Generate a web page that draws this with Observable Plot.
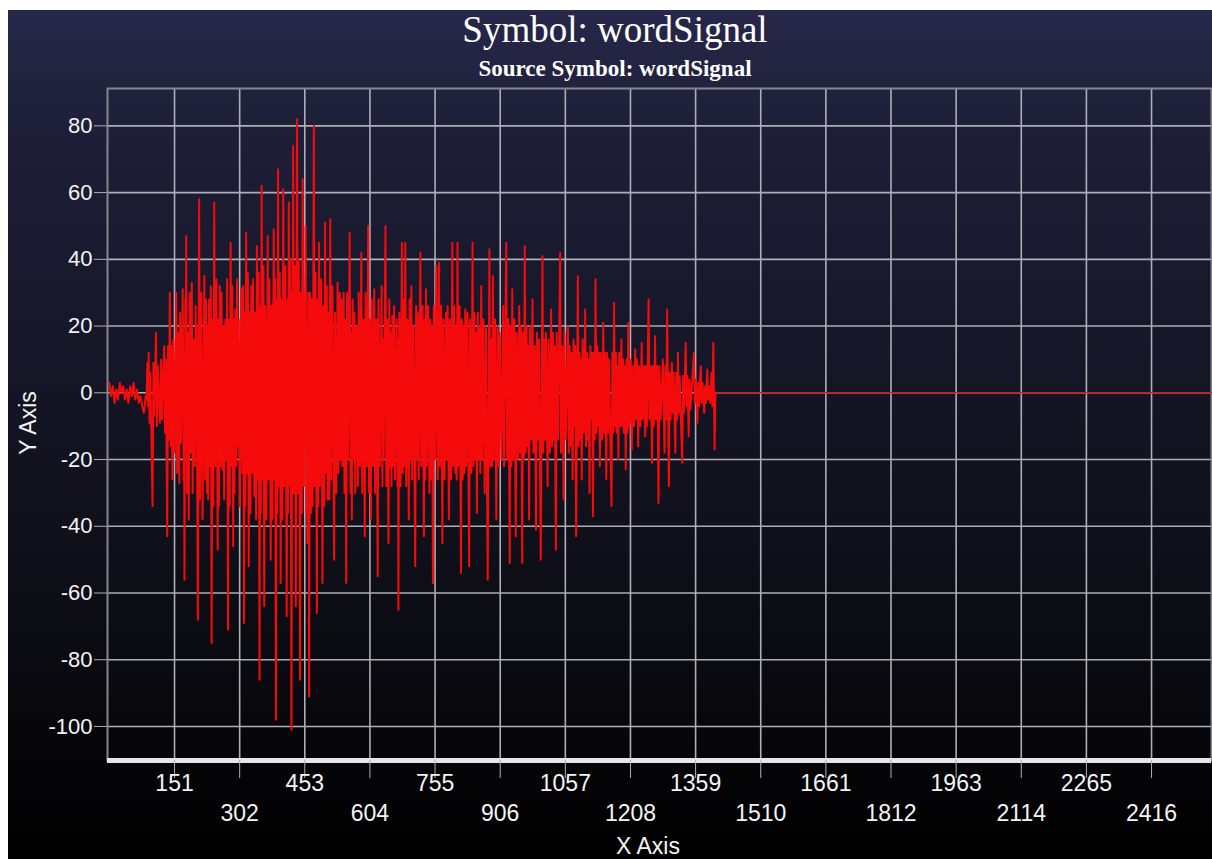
<!DOCTYPE html>
<html>
<head>
<meta charset="utf-8">
<script src="https://cdn.jsdelivr.net/npm/d3@7"></script>
<script src="https://cdn.jsdelivr.net/npm/@observablehq/plot@0.6"></script>
<style>
  html, body { margin: 0; padding: 0; background: #ffffff; }
  #panel {
    position: absolute; left: 8px; top: 10px; width: 1204px; height: 849px; overflow: hidden;
    background: linear-gradient(to bottom, #27284a 0%, #1f2039 12%, #17182b 35%, #10111b 60%, #07070b 85%, #000000 100%);
  }
  #panel svg { position: absolute; left: 0; top: 0; }
  .title { position: absolute; left: 0; width: 1214px; text-align: center; color: #ffffff;
    font-family: "Liberation Serif", "Times New Roman", serif; white-space: nowrap; }
  #t1 { top: 1px; font-size: 37px; line-height: 37px; }
  #t2 { top: 47px; font-size: 23px; line-height: 23px; font-weight: bold; }
  .axt { position: absolute; color: #f4f4f4; font-family: "Liberation Sans", Arial, sans-serif;
    font-size: 23px; white-space: nowrap; transform: translate(-50%, -50%); }
  #ylab { left: 20px; top: 413px; transform: translate(-50%, -50%) rotate(-90deg); }
  #xlab { left: 640px; top: 836px; }
</style>
</head>
<body>
<div id="panel">
  <div id="chart"></div>
  <div class="title" id="t1">Symbol: wordSignal</div>
  <div class="title" id="t2">Source Symbol: wordSignal</div>
  <div class="axt" id="ylab">Y Axis</div>
  <div class="axt" id="xlab">X Axis</div>
</div>
<script>
// ---- data: [sample index, amplitude] ----
const xTicks = [151, 302, 453, 604, 755, 906, 1057, 1208, 1359, 1510, 1661, 1812, 1963, 2114, 2265, 2416];
const yTicks = [-100, -80, -60, -40, -20, 0, 20, 40, 60, 80];
const xDomain = [-4.4, 2555];
const yDomain = [-110.2, 91.2];

const onsetNoise = [[0,3],[4,-1],[8,2],[12,-3],[16,1],[20,-2],[24,3],[28,0],[32,2],[36,-2],[40,1],[44,-3],[48,2],[52,-1],[56,3],[60,-2],[64,1],[68,-3],[72,-1],[76,-4],[80,-6],[84,-1],[86,-2]];

const attackBurst = [[88,9],[89,-4],[91,12],[93,-9],[95,6],[100,-34],[102,9],[104,-7],[108,18],[110,-10],[112,8],[117,-9],[120,10],[122,-8],[127,14],[129,-12],[131,10],[134,-43],[136,14],[138,-14],[140,30],[142,-16],[144,14],[146,-26],[148,16],[151,-18],[155,30],[157,-24],[160,18],[162,-27],[164,24],[166,-15],[170,31],[172,-26],[173,12],[174,-56],[176,28],[177,-12],[178,47],[180,-30],[182,18],[184,-38],[186,30],[188,-18],[191,33],[193,-30],[195,16],[198,-22],[200,26],[201,-8],[202,20],[205,-68],[208,58],[210,-32],[213,30],[216,-38],[220,35],[222,-26],[224,28],[226,-30],[228,20],[229,-32],[231,28],[233,-22],[235,32],[237,-75],[239,22],[241,-34],[243,57],[245,-22],[248,34],[251,-47],[253,22],[254,-34],[256,32],[258,-22],[260,30],[262,-23],[264,20],[266,-32],[269,22],[271,-20],[273,34],[275,-71],[277,22],[279,-34],[281,45],[283,-22],[285,32],[287,-46],[289,22],[290,-30],[292,25],[294,-22],[296,34],[298,-16],[300,22],[302,-34],[306,31],[308,-24],[310,32],[312,-69],[314,24],[315,-34],[317,48],[319,-24],[321,36],[323,-52],[325,24],[327,-36],[329,32],[331,-24],[333,34],[336,-31],[338,24],[340,-38],[342,44],[344,-26],[346,36],[348,-86],[350,26],[351,-36],[353,62],[355,-26],[357,38],[359,-64],[361,26],[364,-38],[367,47],[369,-26],[371,34],[374,-50],[376,26],[378,-38],[381,49],[383,-26],[384,34],[386,-98]];

const peakBurst = [[388,28],[389,-36],[391,67],[393,-28],[395,36],[397,-57],[399,28],[401,-38],[403,61],[405,-28],[408,38],[411,-67],[413,28],[414,-36],[416,57],[418,-28],[420,40],[422,-101],[424,30],[425,-30],[426,74],[428,-30],[430,38],[432,-64],[435,82],[437,-30],[439,40],[442,-86],[444,30],[446,-36],[448,64],[451,-28],[455,50],[457,-36],[458,20],[459,-45],[461,30],[463,-91],[465,30],[467,-36],[469,28],[471,-34],[474,80],[476,-28],[478,36],[481,-66],[483,28],[484,-34],[486,45],[488,-28],[491,34],[494,-57],[496,26],[498,-34],[500,51],[502,-24],[504,32],[506,-32],[508,24],[510,-32],[512,52],[514,-26],[517,32],[521,-50],[523,24],[526,-30],[529,33],[531,-24],[534,30],[536,-20],[538,28],[540,-22],[543,30],[545,-30],[547,22],[549,-57],[551,30],[553,-20],[557,48],[559,-30],[560,18],[562,-38],[564,28],[566,-20],[568,24],[570,-30],[573,20],[576,-28],[578,30],[581,-22],[584,42],[586,-30],[589,22],[592,-43],[594,30],[597,-22],[600,50],[602,-30],[604,22],[606,-38],[608,28],[611,-22],[614,31],[616,-30],[619,22],[622,-55],[624,28],[627,-22],[631,32],[633,-28],[634,16],[636,-20],[640,50],[642,-28],[644,22],[647,-45],[649,28],[651,-22],[653,18],[654,-28],[656,23],[658,-22],[660,26],[662,-26],[666,22],[668,-28],[669,16],[670,-65],[672,24],[675,-28],[678,45],[680,-24],[682,28],[684,-22],[686,45],[688,-28],[691,22],[694,-38],[696,28],[698,-20],[700,32]];

const midDecay = [[702,-26],[705,20],[709,-52],[711,26],[713,-20],[715,24],[717,-26],[721,42],[723,-22],[726,26],[729,-43],[731,22],[732,-26],[734,31],[736,-22],[739,26],[742,-30],[744,22],[746,-26],[748,20],[750,-57],[752,26],[755,-20],[758,38],[761,-26],[764,39],[766,-22],[769,26],[772,-45],[774,22],[777,-26],[780,24],[782,-20],[784,26],[787,-38],[789,22],[792,-26],[795,45],[797,-22],[799,26],[802,-24],[804,20],[805,-26],[807,45],[809,-22],[812,26],[815,-54],[817,22],[819,-26],[821,20],[823,-24],[825,25],[827,-22],[830,24],[834,-52],[836,22],[839,-24],[842,45],[844,-22],[846,24],[848,-20],[850,18],[852,-36],[854,24],[856,-20],[858,20],[860,-24],[862,32],[864,-20],[867,22],[870,-30],[873,20],[877,-56],[881,43],[883,-22],[885,16],[887,-22],[889,35],[891,-20],[894,22],[897,-38],[900,20],[903,-22],[905,18],[909,-20],[913,26],[915,-22],[920,45],[922,-20],[925,22],[928,-51],[930,20],[932,-22],[934,31],[936,-20],[939,22],[942,-43],[944,18],[947,-20],[950,26],[952,-18],[954,20],[957,-51],[959,18],[961,-20],[963,44],[965,-18],[967,20],[970,-16],[971,14],[973,-38],[975,20],[978,-14],[981,28],[983,-18],[986,14],[989,-41],[991,18],[993,-14],[996,16],[1000,-50]];

const decayTail = [[1004,41],[1006,-18],[1008,16],[1010,-14],[1012,18],[1016,-28],[1018,16],[1021,-18],[1024,25],[1026,-16],[1028,18],[1030,-14],[1032,14],[1035,-47],[1037,18],[1040,-14],[1045,42],[1047,-18],[1050,14],[1053,-32],[1055,18],[1058,-14],[1063,20],[1065,-18],[1067,14],[1069,-16],[1071,12],[1074,-26],[1076,16],[1078,-10],[1080,14],[1082,-43],[1086,35],[1088,-16],[1090,12],[1092,-14],[1093,10],[1095,-26],[1097,16],[1100,-12],[1103,25],[1105,-16],[1107,12],[1109,-14],[1111,10],[1113,-30],[1115,14],[1117,-8],[1119,12],[1121,-37],[1123,12],[1125,-14],[1127,34],[1129,-12],[1131,14],[1133,-10],[1135,12],[1137,-22],[1139,12],[1142,-14],[1145,21],[1147,-12],[1149,12],[1152,-26],[1154,12],[1156,-12],[1158,10],[1164,-34],[1166,12],[1168,-12],[1170,27],[1172,-10],[1174,12],[1176,-12],[1178,8],[1180,-20],[1182,12],[1184,-10],[1187,16],[1189,-10],[1191,10],[1193,-12],[1195,8],[1197,-23],[1199,10],[1201,-12],[1203,21],[1205,-10],[1208,10],[1211,-17],[1213,8],[1216,-10],[1219,13],[1221,-8],[1223,10],[1226,-16],[1228,8],[1231,-10],[1234,15],[1236,-8],[1239,8],[1242,-13],[1244,8],[1246,-10],[1250,28],[1252,-8],[1255,8],[1258,-21],[1260,8],[1262,-10],[1265,17],[1267,-8],[1270,8],[1273,-33],[1275,8],[1278,-8],[1283,10],[1287,-18],[1289,8],[1291,-8],[1293,25],[1297,-28],[1299,6],[1301,-8],[1304,9],[1306,-6],[1308,6],[1312,-18],[1314,6],[1316,-8],[1318,12],[1320,-6],[1322,5],[1328,-21],[1330,5],[1332,-6],[1336,15],[1338,-4],[1340,5],[1343,-13],[1345,4],[1347,-5],[1355,12],[1357,-3],[1359,4],[1363,-9],[1365,3],[1367,-4],[1371,8],[1373,-3],[1375,3],[1379,-6],[1381,2],[1383,-3],[1386,7],[1388,-2],[1390,2],[1393,-3],[1396,6],[1398,-4],[1400,15],[1403,-17],[1405,0]];

const silence = [[1406,0],[2555,0]];

// ---- build tables ----
const burst = [...onsetNoise, ...attackBurst, ...peakBurst, ...midDecay, ...decayTail].map(([x, y]) => ({x, y}));
const flat = silence.map(([x, y]) => ({x, y}));

const gridColor = "#aeaeb6";
const labelColor = "#f4f4f6";
const oddRow = xTicks.filter((d, i) => i % 2 === 0);
const evenRow = xTicks.filter((d, i) => i % 2 === 1);

const chart = Plot.plot({
  width: 1204,
  height: 849,
  marginLeft: 99,
  marginRight: 1,
  marginTop: 78,
  marginBottom: 99,
  style: {background: "transparent", color: labelColor, fontFamily: "'Liberation Sans', Arial, sans-serif", overflow: "visible"},
  x: {domain: xDomain},
  y: {domain: yDomain},
  marks: [
    Plot.ruleX(xTicks, {stroke: gridColor, strokeWidth: 1.6}),
    Plot.ruleY(yTicks, {stroke: gridColor, strokeWidth: 1.6}),
    Plot.frame({stroke: "#85858e", strokeWidth: 2}),
    Plot.line(flat, {x: "x", y: "y", stroke: "#d01a22", strokeWidth: 1.6}),
    Plot.line(burst, {x: "x", y: "y", stroke: "#f50b0b", strokeWidth: 2.0}),
    Plot.ruleY([yDomain[0]], {stroke: "#e6e6e8", strokeWidth: 5}),
    Plot.axisX({ticks: xTicks, tickSize: 18, tickFormat: () => "", stroke: gridColor, label: null}),
    Plot.axisY({ticks: yTicks, tickSize: 13, tickFormat: () => "", stroke: gridColor, label: null}),
    Plot.text(yTicks, {y: d => d, frameAnchor: "left", dx: -15, textAnchor: "end", text: d => String(d), fontSize: 22, fill: labelColor}),
    Plot.text(oddRow, {x: d => d, frameAnchor: "bottom", dy: 30, text: d => String(d), fontSize: 23, fill: labelColor}),
    Plot.text(evenRow, {x: d => d, frameAnchor: "bottom", dy: 60, text: d => String(d), fontSize: 23, fill: labelColor})
  ]
});
document.getElementById("chart").appendChild(chart);
</script>
</body>
</html>
